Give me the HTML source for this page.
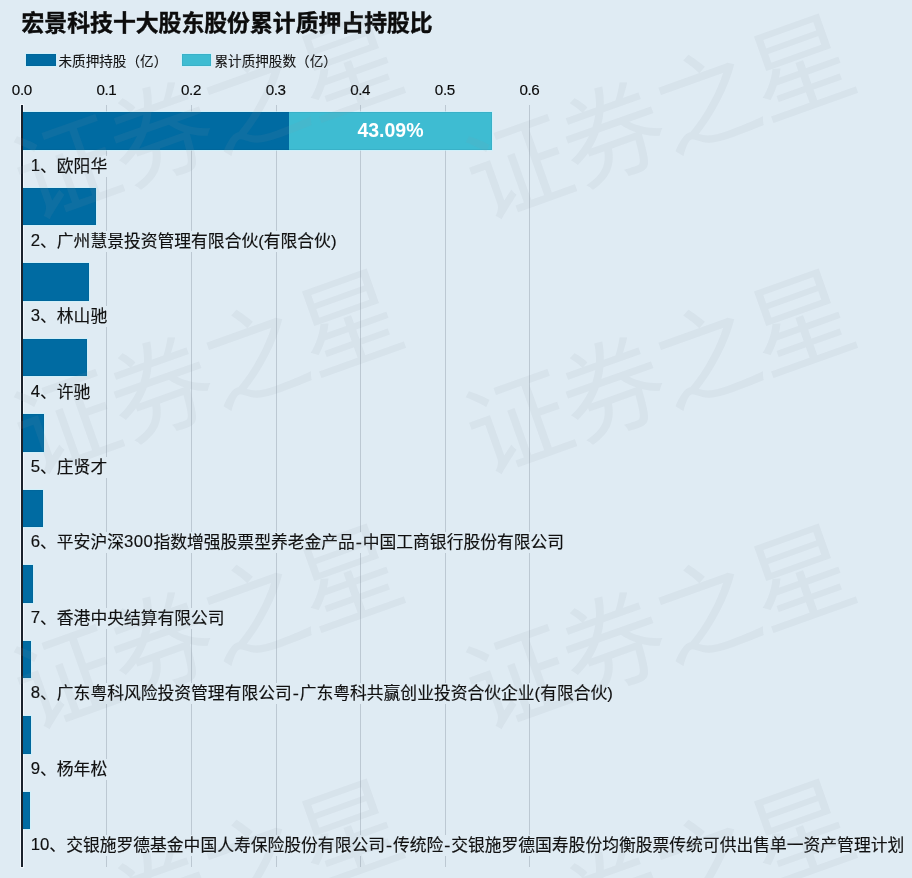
<!DOCTYPE html>
<html lang="zh-CN">
<head>
<meta charset="utf-8">
<title>宏景科技十大股东股份累计质押占持股比</title>
<style>
html,body{margin:0;padding:0;}
body{width:912px;height:878px;background:#dfebf3;position:relative;overflow:hidden;
 font-family:"Liberation Sans","Noto Sans CJK SC",sans-serif;color:#111;}
.abs{position:absolute;white-space:nowrap;}
.title{left:21.5px;top:8.5px;font-size:22.85px;font-weight:bold;line-height:28px;color:#0c0c0c;-webkit-text-stroke:0.4px #0c0c0c;}
.leg{font-size:13.6px;line-height:18px;top:52.6px;color:#141414;-webkit-text-stroke:0.12px #141414;}
.sw{width:30px;height:12px;top:54px;}
.tick{font-size:15.2px;line-height:16px;top:82px;width:40px;text-align:center;color:#0a0a0a;-webkit-text-stroke:0.15px #0a0a0a;letter-spacing:-0.4px;text-indent:-0.4px;}
.grid{width:1px;top:105px;height:762px;background:#bcc8d2;}
.axis{left:21px;width:2px;top:105px;height:762px;background:#1a222c;}
.axh{left:20px;width:4px;top:104px;height:764px;background:rgba(246,251,255,0.7);}
.bar{height:37.5px;}
.d{background:#006ba2;}
.l{background:#3ebcd2;}
.seg{background:#006ba2;box-shadow:inset 0 1px 0 rgba(0,40,70,0.07), inset 0 -1px 0 rgba(0,40,70,0.07);}
.bar,.sw{box-shadow:0 0 0 1px rgba(200,244,255,0.6), inset 0 0 0 1px rgba(0,40,70,0.07);}
.lab{left:30.7px;font-size:16.8px;line-height:21px;height:21px;color:#101010;background:#dfebf3;-webkit-text-stroke:0.15px #101010;}
.n{position:relative;top:-1px;}
.hy{font-family:"Liberation Mono",monospace;margin:0 -1.1px;}
.pct{font-size:19.5px;font-weight:bold;color:#fff;text-align:center;line-height:37.0px;letter-spacing:0px;text-indent:0px;}
.wm{font-size:103px;line-height:103px;color:rgba(145,152,165,0.098);transform:rotate(-19.6deg);transform-origin:50% 50%;pointer-events:none;font-family:"Noto Sans CJK SC","Liberation Sans",sans-serif;font-weight:400;letter-spacing:-3px;}
</style>
</head>
<body>

<div class="abs grid" style="left:106px"></div>
<div class="abs grid" style="left:191px"></div>
<div class="abs grid" style="left:276px"></div>
<div class="abs grid" style="left:360px"></div>
<div class="abs grid" style="left:445px"></div>
<div class="abs grid" style="left:529px"></div>
<div class="abs axh"></div>
<div class="abs bar l" style="left:22px;top:112px;width:470px;height:38px"><div class="abs seg" style="left:0;top:0;width:267px;height:38px"></div><div class="abs pct" style="left:267px;top:0;width:203px;height:38px">43.09%</div></div>
<div class="abs bar d" style="left:22px;top:188px;width:74px;height:37px"></div>
<div class="abs bar d" style="left:22px;top:263px;width:67px;height:38px"></div>
<div class="abs bar d" style="left:22px;top:339px;width:65px;height:37px"></div>
<div class="abs bar d" style="left:22px;top:414px;width:22px;height:38px"></div>
<div class="abs bar d" style="left:22px;top:490px;width:21px;height:37px"></div>
<div class="abs bar d" style="left:22px;top:565px;width:11px;height:38px"></div>
<div class="abs bar d" style="left:22px;top:641px;width:9px;height:37px"></div>
<div class="abs bar d" style="left:22px;top:716px;width:9px;height:38px"></div>
<div class="abs bar d" style="left:22px;top:792px;width:8px;height:37px"></div>
<div class="abs axis"></div>
<div class="abs title">宏景科技十大股东股份累计质押占持股比</div>
<div class="abs sw d" style="left:26px"></div><div class="abs leg" style="left:58.5px">未质押持股（亿）</div>
<div class="abs sw l" style="left:182px;width:29px"></div><div class="abs leg" style="left:214.5px">累计质押股数（亿）</div>
<div class="abs tick" style="left:2.00px">0.0</div>
<div class="abs tick" style="left:86.60px">0.1</div>
<div class="abs tick" style="left:171.20px">0.2</div>
<div class="abs tick" style="left:255.80px">0.3</div>
<div class="abs tick" style="left:340.40px">0.4</div>
<div class="abs tick" style="left:425.00px">0.5</div>
<div class="abs tick" style="left:509.60px">0.6</div>
<div class="abs lab" style="top:156px"><span class="n">1</span>、欧阳华</div>
<div class="abs lab" style="top:231px"><span class="n">2</span>、广州慧景投资管理有限合伙(有限合伙)</div>
<div class="abs lab" style="top:306px"><span class="n">3</span>、林山驰</div>
<div class="abs lab" style="top:382px"><span class="n">4</span>、许驰</div>
<div class="abs lab" style="top:457px"><span class="n">5</span>、庄贤才</div>
<div class="abs lab" style="top:532px"><span class="n">6</span>、平安沪深<span class="n" style="letter-spacing:0.5px">300</span>指数增强股票型养老金产品<span class="hy">-</span>中国工商银行股份有限公司</div>
<div class="abs lab" style="top:608px"><span class="n">7</span>、香港中央结算有限公司</div>
<div class="abs lab" style="top:683px"><span class="n">8</span>、广东粤科风险投资管理有限公司<span class="hy">-</span>广东粤科共赢创业投资合伙企业(有限合伙)</div>
<div class="abs lab" style="top:759px"><span class="n">9</span>、杨年松</div>
<div class="abs lab" style="top:835px"><span class="n">10</span>、交银施罗德基金中国人寿保险股份有限公司<span class="hy">-</span>传统险<span class="hy">-</span>交银施罗德国寿股份均衡股票传统可供出售单一资产管理计划</div>
<div class="abs wm" style="left:3.5px;top:59.8px;width:400px">证券之星</div>
<div class="abs wm" style="left:455.5px;top:59.8px;width:400px">证券之星</div>
<div class="abs wm" style="left:3.5px;top:314.8px;width:400px">证券之星</div>
<div class="abs wm" style="left:455.5px;top:314.8px;width:400px">证券之星</div>
<div class="abs wm" style="left:3.5px;top:569.8px;width:400px">证券之星</div>
<div class="abs wm" style="left:455.5px;top:569.8px;width:400px">证券之星</div>
<div class="abs wm" style="left:3.5px;top:824.8px;width:400px">证券之星</div>
<div class="abs wm" style="left:455.5px;top:824.8px;width:400px">证券之星</div>
</body>
</html>
